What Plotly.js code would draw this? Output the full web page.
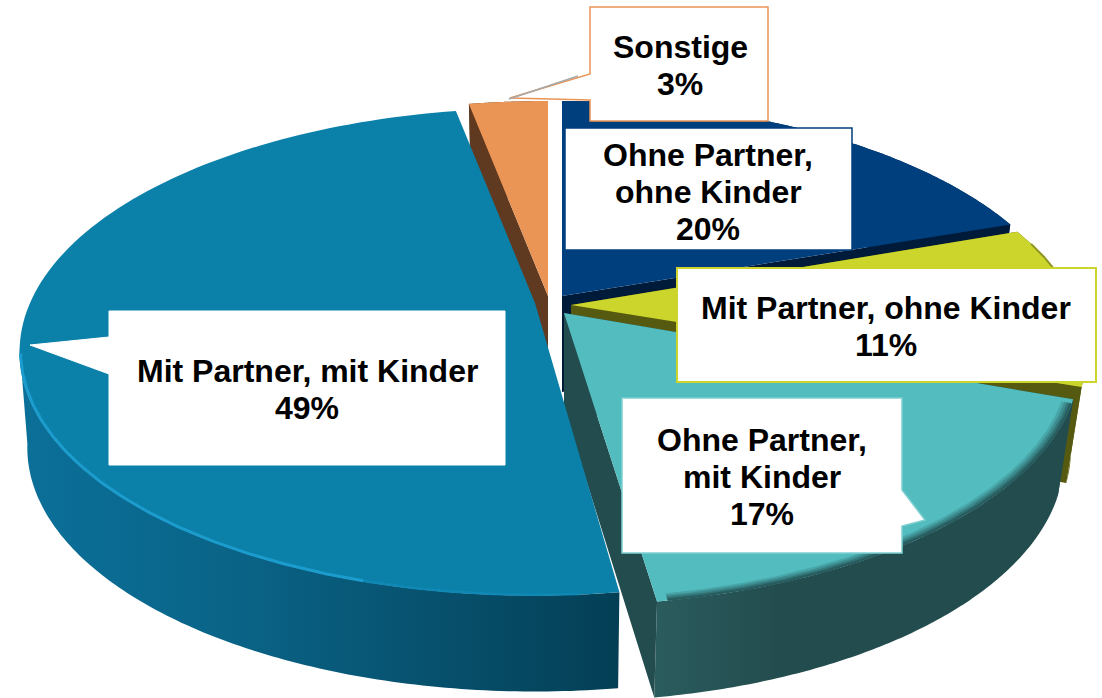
<!DOCTYPE html>
<html>
<head>
<meta charset="utf-8">
<script src="https://cdn.plot.ly/plotly-3.0.1.min.js"></script>
<style>html,body{margin:0;padding:0;background:#fff}#chart{width:1102px;height:698px}</style>
</head>
<body>
<div id="chart"></div>
<script>
// ---- data (clockwise from 12 o'clock) ----
var categories = ["Ohne Partner, ohne Kinder", "Mit Partner, ohne Kinder", "Ohne Partner, mit Kinder", "Mit Partner, mit Kinder", "Sonstige"];
var labelLines = [["Ohne Partner,", "ohne Kinder"], ["Mit Partner, ohne Kinder"], ["Ohne Partner,", "mit Kinder"], ["Mit Partner, mit Kinder"], ["Sonstige"]];
var shares = [20, 11, 17, 49, 3];

// ---- projection of the tilted pie ----
var rx = 505, ry = 234, persp = 0.2, depth = 96;
var shrink = [0.97, 0.97, 0.97, 0.985, 0.97];
var apexX = [562, 571, 564, 535, 548];
var apexY = [296, 305, 313, 303, 296];
var nudgeStart = [0, -1.5, -1.5, -0.5, 0];
var nudgeEnd = [-1, -2.5, -1.3, 0, 0];
var faceColor = ["#003f7d", "#cbd52b", "#52bcbf", "#0b80a9", "#ea9455"];
var cutColor = ["#001a3a", "#565a10", "#234c4e", "#064a64", "#603a20"];
var wallStops = [
  [[0, "#002a55"], [1, "#002a55"]],
  [[0, "#565a10"], [1, "#6a6e14"]],
  [[0, "#2b5c5e"], [0.3, "#234c4e"], [1, "#234c4e"]],
  [[0, "#0b7099"], [0.35, "#0a6488"], [1, "#043f55"]],
  [[0, "#603a20"], [1, "#603a20"]]
];
var drawOrder = [0, 1, 4, 2, 3];
var blueWallEnd = 259.4;

function project(i, thetaDeg, r) {
  var t = thetaDeg * Math.PI / 180, u = r * Math.sin(t), v = r * Math.cos(t);
  var s = 1 / (1 + persp * v);
  return [apexX[i] + rx * u * s, apexY[i] - ry * v * s];
}
function lower(i, p) {
  return [apexX[i] + (p[0] - apexX[i]) * shrink[i], p[1] + depth];
}
function arc(i, a, b, r) {
  var pts = [], n = 120;
  for (var k = 0; k <= n; k++) pts.push(project(i, a + (b - a) * k / n, r));
  return pts;
}
function poly(pts, fill, stops) {
  var tr = {
    type: "scatter", mode: "none", fill: "toself", hoverinfo: "skip", showlegend: false,
    x: pts.map(function (p) { return p[0]; }), y: pts.map(function (p) { return p[1]; })
  };
  if (stops) tr.fillgradient = { type: "horizontal", colorscale: stops };
  else tr.fillcolor = fill;
  return tr;
}
function line(pts, color, width) {
  return {
    type: "scatter", mode: "lines", hoverinfo: "skip", showlegend: false,
    x: pts.map(function (p) { return p[0]; }), y: pts.map(function (p) { return p[1]; }),
    line: { color: color, width: width }
  };
}

var bounds = [], acc = 0;
shares.forEach(function (v, i) {
  bounds.push([acc * 3.6 + nudgeStart[i], (acc + v) * 3.6 + nudgeEnd[i]]);
  acc += v;
});

var traces = [];
drawOrder.forEach(function (i) {
  var a = bounds[i][0], b = bounds[i][1];
  var apex = [apexX[i], apexY[i]];
  var rim = arc(i, a, b, 1);
  var wallRim = i === 3 ? arc(i, a, blueWallEnd, 1) : rim;
  var bottom = wallRim.map(function (p) { return lower(i, p); }).reverse();
  traces.push(poly(wallRim.concat(bottom), null, wallStops[i]));
  if (i !== 3) {
    var e0 = project(i, a, 1), e1 = project(i, b, 1);
    traces.push(poly([apex, e1, lower(i, e1), lower(i, apex)], cutColor[i]));
    traces.push(poly([apex, e0, lower(i, e0), lower(i, apex)], cutColor[i]));
  }
  traces.push(poly([apex].concat(rim), faceColor[i]));
});

// bevels along the front rim (soft fade from the face to the wall)
traces.push(line(arc(2, 111, 170.5, 0.984), "#48a5a8", 3));
traces.push(line(arc(2, 111, 170.5, 0.989), "#3d8d90", 3));
traces.push(line(arc(2, 111, 170.5, 0.994), "#327376", 3));
traces.push(line(arc(2, 111, 170.5, 0.998), "#285c5e", 2.5));
traces.push(line(arc(3, 176, 196, 0.998), "#1088b4", 2.5));
traces.push(line(arc(3, 196, 258, 0.998), "#1b9ccd", 3));
traces.push(line(arc(1, 74, 106, 1.0), "#8e9520", 2));

// ---- callouts ----
var boxes = [
  { path: "M565,128 L852,128 L852,250 L565,250 Z", c: "#003f7d", w: 1.5 },
  { path: "M677,268 L1096,268 L1096,382 L677,382 Z", c: "#cbd52b", w: 2 },
  { path: "M622,398 L902,398 L902,490 L925,520 L902,526 L902,553 L622,553 Z", c: "#7fd0d2", w: 1.5 },
  { path: "M109,311 L505,311 L505,465 L109,465 L109,374 L30,345 L109,337 Z", c: "#ffffff", w: 1 },
  { path: "M590,7 L768,7 L768,121 L590,121 L590,100 L510,98 L590,74 Z", c: "#ea9455", w: 1.5 }
];
var shapes = boxes.map(function (b) {
  return { type: "path", xref: "x", yref: "y", path: b.path, fillcolor: "#ffffff", line: { color: b.c, width: b.w }, layer: "above" };
});
shapes.push({ type: "line", xref: "x", yref: "y", x0: 509, y0: 99, x1: 578, y1: 76, line: { color: "#a8a8a8", width: 1.5 }, layer: "above" });

var labelX = [708, 886, 762, 307, 680];
var labelTop = [155, 308, 440, 371, 47];
var lineStep = 37.2;
var annotations = [];
categories.forEach(function (c, i) {
  labelLines[i].concat([shares[i] + "%"]).forEach(function (txt, k) {
    annotations.push({
      xref: "x", yref: "y", x: labelX[i], y: labelTop[i] + k * lineStep, xanchor: "center", yanchor: "middle",
      showarrow: false, align: "center", text: "<b>" + txt + "</b>",
      font: { family: "Liberation Sans, Arial, sans-serif", size: 32, color: "#000000" }
    });
  });
});

Plotly.newPlot("chart", traces, {
  width: 1102, height: 698,
  margin: { l: 0, r: 0, t: 0, b: 0, pad: 0 },
  paper_bgcolor: "#ffffff", plot_bgcolor: "#ffffff",
  showlegend: false, hovermode: false,
  xaxis: { range: [0, 1102], visible: false, fixedrange: true },
  yaxis: { range: [698, 0], visible: false, fixedrange: true },
  shapes: shapes, annotations: annotations
}, { displayModeBar: false, staticPlot: true });
</script>
</body>
</html>
